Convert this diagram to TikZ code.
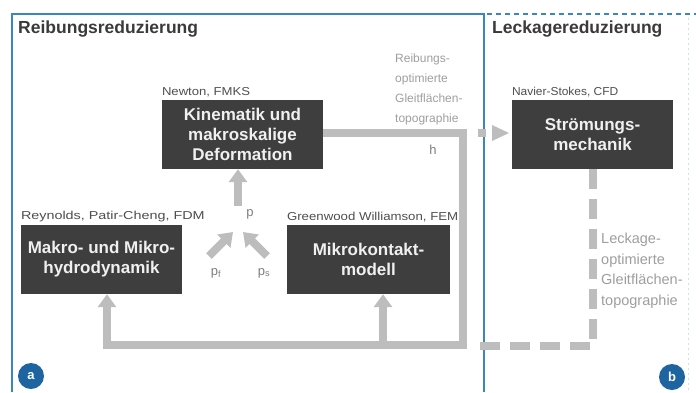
\documentclass[tikz,border=0pt]{standalone}
\usepackage{fontspec}
\setmainfont{Liberation Sans}
\usetikzlibrary{arrows.meta}
\definecolor{boxgray}{HTML}{3E3E3E}
\definecolor{arrgray}{HTML}{BDBDBD}
\definecolor{txtgray}{HTML}{9E9E9E}
\definecolor{frameblue}{HTML}{3A86BE}
\definecolor{badgeblue}{HTML}{1E64A0}
\definecolor{titlegray}{HTML}{3A3A3A}
\newcommand{\hstretch}[2]{\scalebox{#1}[1]{#2}}
\tikzset{
  model/.style={fill=boxgray, text=white!94!black, inner sep=0pt, minimum width=161pt, minimum height=69pt, align=center, font=\fontsize{17}{20}\selectfont\bfseries},
  method/.style={anchor=south west, inner sep=0pt, text=titlegray!90, font=\fontsize{11.5}{13}\selectfont},
  title/.style={anchor=west, inner sep=0pt, text=titlegray, font=\fontsize{17.5}{20}\selectfont\bfseries},
  flow/.style={draw=arrgray, line width=8pt, -{Triangle[width=18pt,length=13pt]}},
  flowline/.style={draw=arrgray, line width=8pt},
  dflow/.style={draw=arrgray, line width=8pt, dash pattern=on 20pt off 10pt},
  note/.style={anchor=north west, inner sep=0pt, text=txtgray, align=left},
  var/.style={inner sep=0pt, text=txtgray!80!black, font=\fontsize{13}{15}\selectfont},
  badge/.style={circle, fill=badgeblue, text=white, inner sep=0pt, minimum size=26pt, font=\fontsize{13}{15}\selectfont\bfseries},
}
\begin{document}
\begin{tikzpicture}[x=1pt,y=-1pt]
\useasboundingbox (0,0) rectangle (696,392);
% frames
\draw[frameblue, line width=1.5pt] (12,392) -- (12,14) -- (484,14) -- (484,392);
\draw[frameblue, line width=1.5pt, dash pattern=on 5pt off 4pt] (487,14) -- (696,14);
\draw[frameblue!25, line width=1pt, dash pattern=on 2pt off 3pt] (688,18) -- (688,392);
\node[title] (t1) at (18,29) {Reibungsreduzierung};
\node[title] (t2) at (492,29) {Leckagereduzierung};
% model boxes
\node[model] (kin) at (242.5,134.5) {Kinematik und\\makroskalige\\Deformation};
\node[model] (makro) at (101.5,259.5) {Makro- und Mikro-\\hydrodynamik};
\node[model, minimum width=163pt] (mikro) at (368.5,259.5) {Mikrokontakt-\\modell};
\node[model] (stroem) at (592.5,134.5) {Strömungs-\\mechanik};
% method labels
\node[method] (m1) at (kin.north west) [yshift=3pt] {\hstretch{1.14}{Newton, FMKS}};
\node[method] (m2) at (makro.north west) [yshift=3pt] {\hstretch{1.25}{Reynolds, Patir-Cheng, FDM}};
\node[method] (m3) at (mikro.north west) [yshift=3pt] {\hstretch{1.15}{Greenwood Williamson, FEM}};
\node[method] (m4) at (stroem.north west) [yshift=3pt] {\hstretch{1.04}{Navier-Stokes, CFD}};
% pressures
\node[var] (p) at (250,214) {p};
\node[var] (pf) at (216,273) {p\textsubscript{f}};
\node[var] (ps) at (264,273) {p\textsubscript{s}};
\coordinate (pup) at (238,206);
\draw[flow] (pup) -- (pup |- kin.south);
\coordinate (pfa) at (209,256);
\coordinate (pfb) at (233,232);
\coordinate (psa) at (267,256);
\coordinate (psb) at (243,232);
\draw[flow] (pfa) -- (pfb);
\draw[flow] (psa) -- (psb);
% feedback loop
\coordinate (c1) at (463,133);
\coordinate (c2) at (463,345);
\coordinate (c3) at (107,345);
\coordinate (c4) at (383,345);
\draw[flowline, line join=miter] (kin.east |- c1) -- (c1) -- (c2) -- (c3);
\draw[flow] ([xshift=4pt]c3) -- (c3) -- (c3 |- makro.south);
\draw[flow] (c4) -- (c4 |- mikro.south);
\node[var] (h) at (433,150) {h};
% dashed to Strömungsmechanik
\coordinate (d1) at (467,133);
\draw[draw=arrgray, line width=8pt, dash pattern=on 0pt off 11pt on 8pt off 100pt] (d1) -- (stroem.west |- d1);
\fill[arrgray] (492,125) -- (509,133) -- (492,141) -- cycle;
\coordinate (e1) at (593,346);
\draw[dflow] (stroem.south -| e1) -- (e1) -- (470,346);
% notes
\node[note, font=\fontsize{12}{20}\selectfont] (n1) at (395,54) {Reibungs-\\optimierte\\Gleitflächen-\\topographie};
\node[note, font=\fontsize{14.5}{20.5}\selectfont] (n2) at (601,233) {Leckage-\\optimierte\\Gleitflächen-\\topographie};
% badges
\node[badge] (a) at (31,376) {a};
\node[badge] (b) at (672,377) {b};
\end{tikzpicture}
\end{document}
